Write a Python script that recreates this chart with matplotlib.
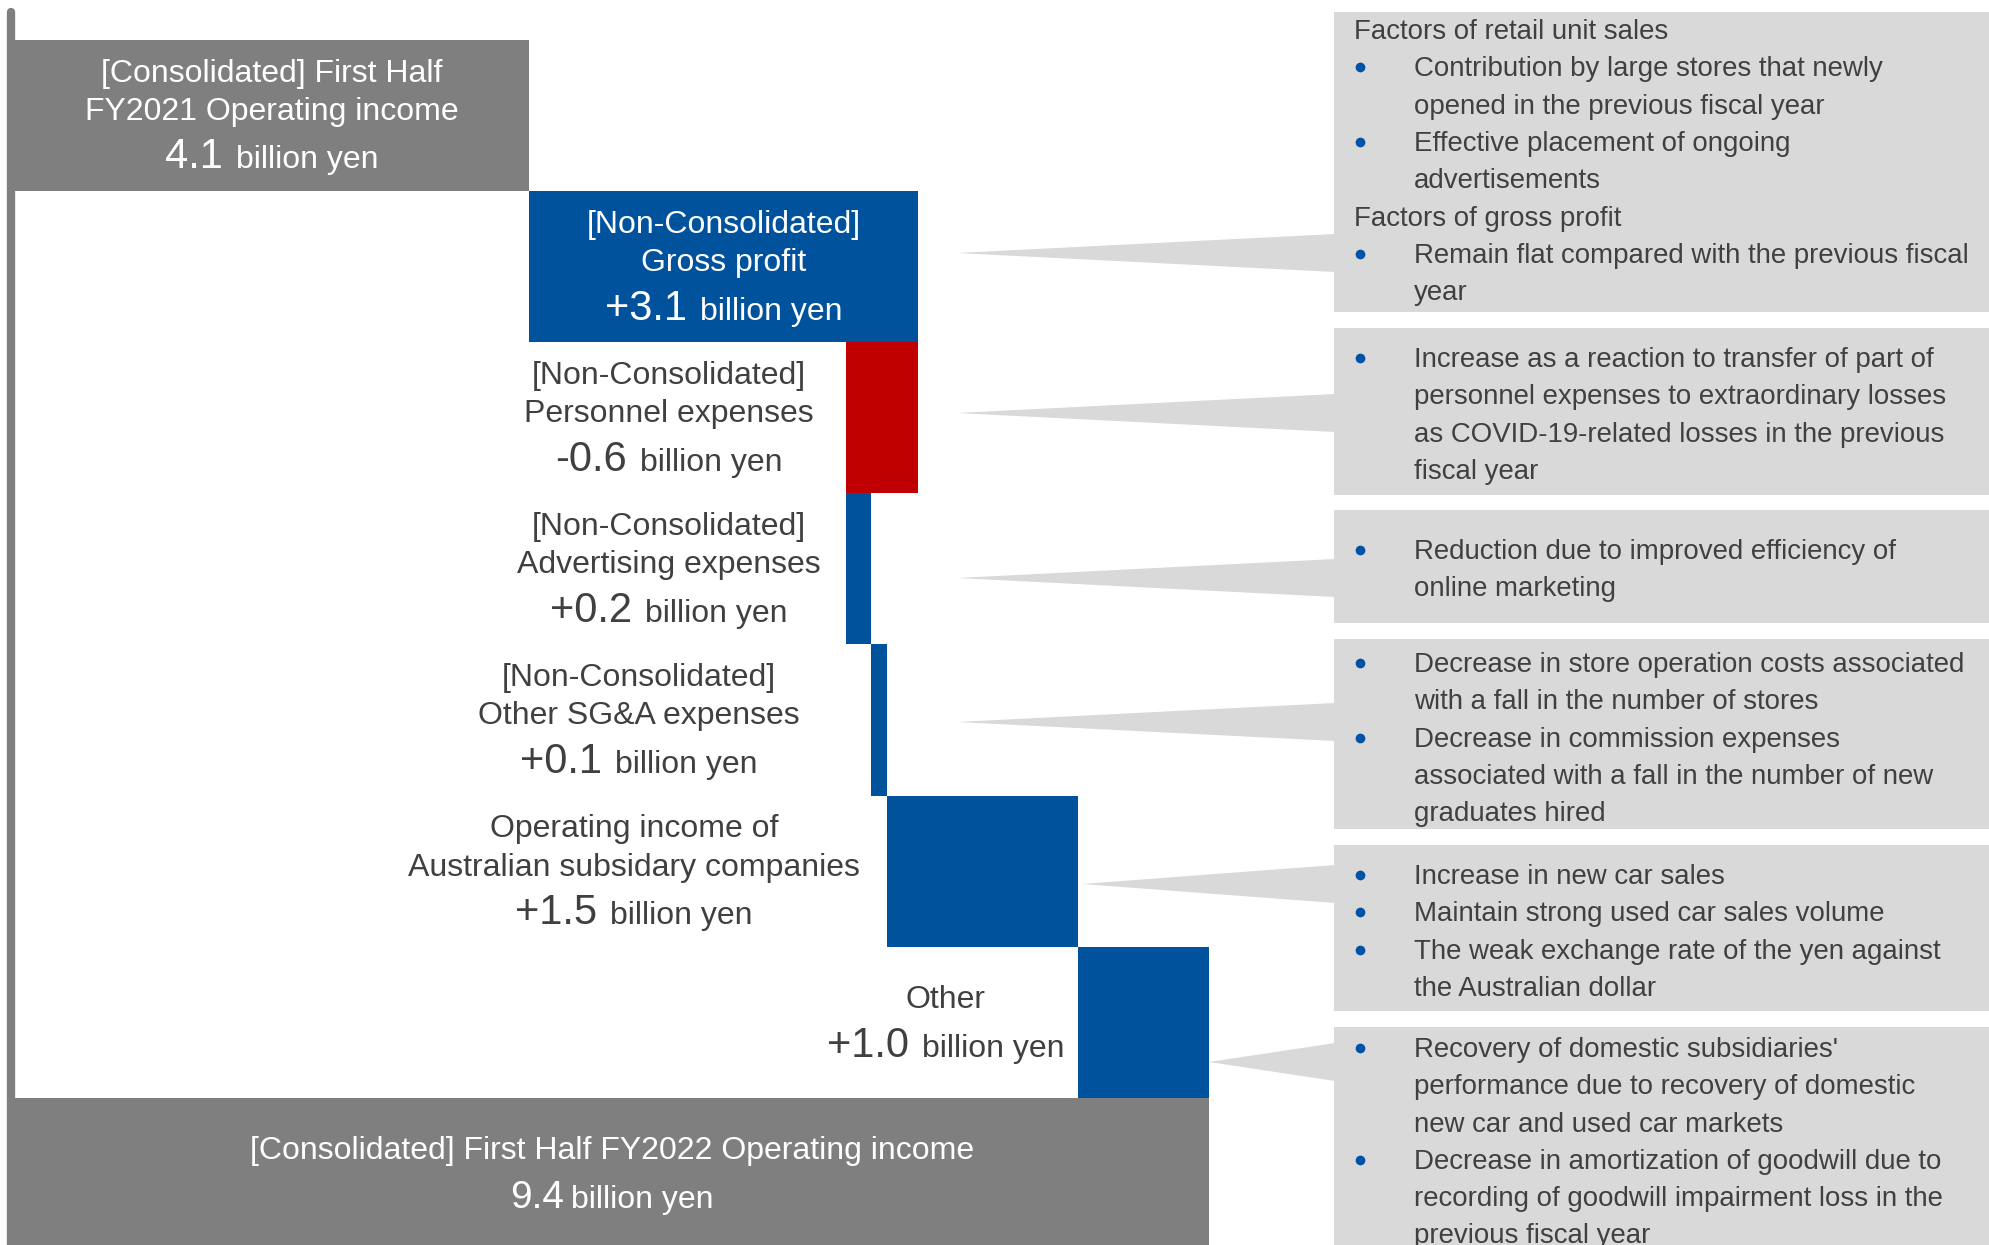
import matplotlib

matplotlib.use("Agg")
import matplotlib.pyplot as plt  # noqa: E402
from matplotlib.patches import Polygon, Rectangle  # noqa: E402

# ---- data ----
STEP_NAMES = [
    "[Consolidated] First Half\nFY2021 Operating income",
    "[Non-Consolidated]\nGross profit",
    "[Non-Consolidated]\nPersonnel expenses",
    "[Non-Consolidated]\nAdvertising expenses",
    "[Non-Consolidated]\nOther SG&A expenses",
    "Operating income of\nAustralian subsidary companies",
    "Other",
    "[Consolidated] First Half FY2022 Operating income",
]
STEP_TEXT = ["4.1", "+3.1", "-0.6", "+0.2", "+0.1", "+1.5", "+1.0", "9.4"]
START_VALUE = 4.1
# bar widths as drawn (billion yen), slightly off the rounded labels
DELTAS = [3.11, -0.58, 0.20, 0.13, 1.52, 1.05]

NOTES = [
    [("head", "Factors of retail unit sales"),
     ("bullet", "Contribution by large stores that newly\nopened in the previous fiscal year"),
     ("bullet", "Effective placement of ongoing\nadvertisements"),
     ("head", "Factors of gross profit"),
     ("bullet", "Remain flat compared with the previous fiscal\nyear")],
    [("bullet", "Increase as a reaction to transfer of part of\npersonnel expenses to extraordinary losses\n"
                "as COVID-19-related losses in the previous\nfiscal year")],
    [("bullet", "Reduction due to improved efficiency of\nonline marketing")],
    [("bullet", "Decrease in store operation costs associated\nwith a fall in the number of stores"),
     ("bullet", "Decrease in commission expenses\nassociated with a fall in the number of new\ngraduates hired")],
    [("bullet", "Increase in new car sales"),
     ("bullet", "Maintain strong used car sales volume"),
     ("bullet", "The weak exchange rate of the yen against\nthe Australian dollar")],
    [("bullet", "Recovery of domestic subsidiaries'\nperformance due to recovery of domestic\n"
                "new car and used car markets"),
     ("bullet", "Decrease in amortization of goodwill due to\nrecording of goodwill impairment loss in the\n"
                "previous fiscal year")],
]

# ---- layout / style ----
W, H = 1989, 1245
PX_PER_UNIT = 125.3
X0_PX = 15
ROW_PX = 151.1
TOP_PX = 40

GRAY = "#7f7f7f"
BLUE = "#00529c"
RED = "#c00000"
BOX = "#d9d9d9"
TEXT = "#404040"
BULLET = "#0052a5"

LABEL_FS = 23
NOTE_FS = 19.9

# label centre (data units) for labels outside the bar; None -> centred in bar
LABEL_X = [None, None, 5.22, 5.22, 4.98, 4.94, 7.43, None]
# callout boxes in pixels: top, bottom, first baseline, pointer tip x, pointer y
BOX_LAYOUT = [
    (12, 312, 39, 957, 253),
    (328, 495, 367, 957, 413),
    (510, 623, 559, 957, 578),
    (639, 829, 672, 957, 722),
    (845, 1011, 884, 1082, 884),
    (1027, 1260, 1057, 1209, 1062),
]
BOX_LEFT = 1334
LINE_PX = 37.3

plt.rcParams["font.family"] = ["Liberation Sans", "DejaVu Sans"]

fig = plt.figure(figsize=(W / 100, H / 100), dpi=100)
ax = fig.add_axes([0, 0, 1, 1])
ax.set_xlim(-X0_PX / PX_PER_UNIT, (W - X0_PX) / PX_PER_UNIT)
ax.set_ylim((H - TOP_PX) / ROW_PX, -TOP_PX / ROW_PX)
ax.axis("off")

# waterfall bars
lefts, widths, colors = [0.0], [START_VALUE], [GRAY]
level = START_VALUE
for d in DELTAS:
    lefts.append(min(level, level + d))
    widths.append(abs(d))
    colors.append(BLUE if d > 0 else RED)
    level += d
lefts.append(0.0)
widths.append(level)
colors.append(GRAY)
rows = list(range(len(widths)))
ax.barh([r + 0.5 for r in rows], widths, left=lefts, height=1.0, color=colors, linewidth=0, zorder=2)

# left axis line
ax.plot([-0.028, -0.028], [-0.185, 9], color=GRAY, lw=6, solid_capstyle="round", zorder=3)

# overlay in pixel coordinates for callouts and text
ov = fig.add_axes([0, 0, 1, 1])
ov.set_xlim(0, W)
ov.set_ylim(H, 0)
ov.axis("off")
ov.patch.set_alpha(0)

fig.canvas.draw()
renderer = fig.canvas.get_renderer()


def to_px(x, y):
    dx, dy = ax.transData.transform((x, y))
    return dx, H - dy


def value_line(cx, y, num, color, num_size=30, gap=15):
    t1 = ov.text(0, y, num, fontsize=num_size, color=color, va="baseline", ha="left")
    t2 = ov.text(0, y, "billion yen", fontsize=LABEL_FS, color=color, va="baseline", ha="left")
    w1 = t1.get_window_extent(renderer).width
    w2 = t2.get_window_extent(renderer).width
    left = cx - (w1 + gap + w2) / 2
    t1.set_x(left)
    t2.set_x(left + w1 + gap)


for r in rows:
    inside = LABEL_X[r] is None
    color = "white" if inside else TEXT
    cx_data = lefts[r] + widths[r] / 2 if inside else LABEL_X[r]
    names = STEP_NAMES[r].split("\n")
    if len(names) == 2:
        fracs = [0.275, 0.53]
        vfrac = 0.85
    else:
        fracs = [0.404]
        vfrac = 0.728
    for name, f in zip(names, fracs):
        x, y = to_px(cx_data, r + f)
        ov.text(x, y, name, fontsize=LABEL_FS, color=color, ha="center", va="baseline")
    x, y = to_px(cx_data, r + vfrac)
    last = r == rows[-1]
    value_line(x, y, STEP_TEXT[r], color, num_size=28 if last else 30, gap=7 if last else 13)

# callout boxes
for (top, bottom, first, tip_x, tip_y), items in zip(BOX_LAYOUT, NOTES):
    ov.add_patch(Rectangle((BOX_LEFT, top), W - BOX_LEFT + 5, bottom - top, color=BOX, lw=0, zorder=1))
    ov.add_patch(Polygon([(tip_x, tip_y), (BOX_LEFT + 1, tip_y - 19), (BOX_LEFT + 1, tip_y + 19)],
                         closed=True, color=BOX, lw=0, zorder=1))
    y = first
    for kind, text in items:
        for k, line in enumerate(text.split("\n")):
            if kind == "head":
                ov.text(1354, y, line, fontsize=NOTE_FS, color=TEXT, va="baseline", ha="left")
            else:
                if k == 0:
                    ov.plot(1360, y - 9, "o", ms=7, color=BULLET, mew=0, zorder=3)
                ov.text(1414, y, line, fontsize=NOTE_FS, color=TEXT, va="baseline", ha="left")
            y += LINE_PX

fig.savefig("out.png", dpi=100)
